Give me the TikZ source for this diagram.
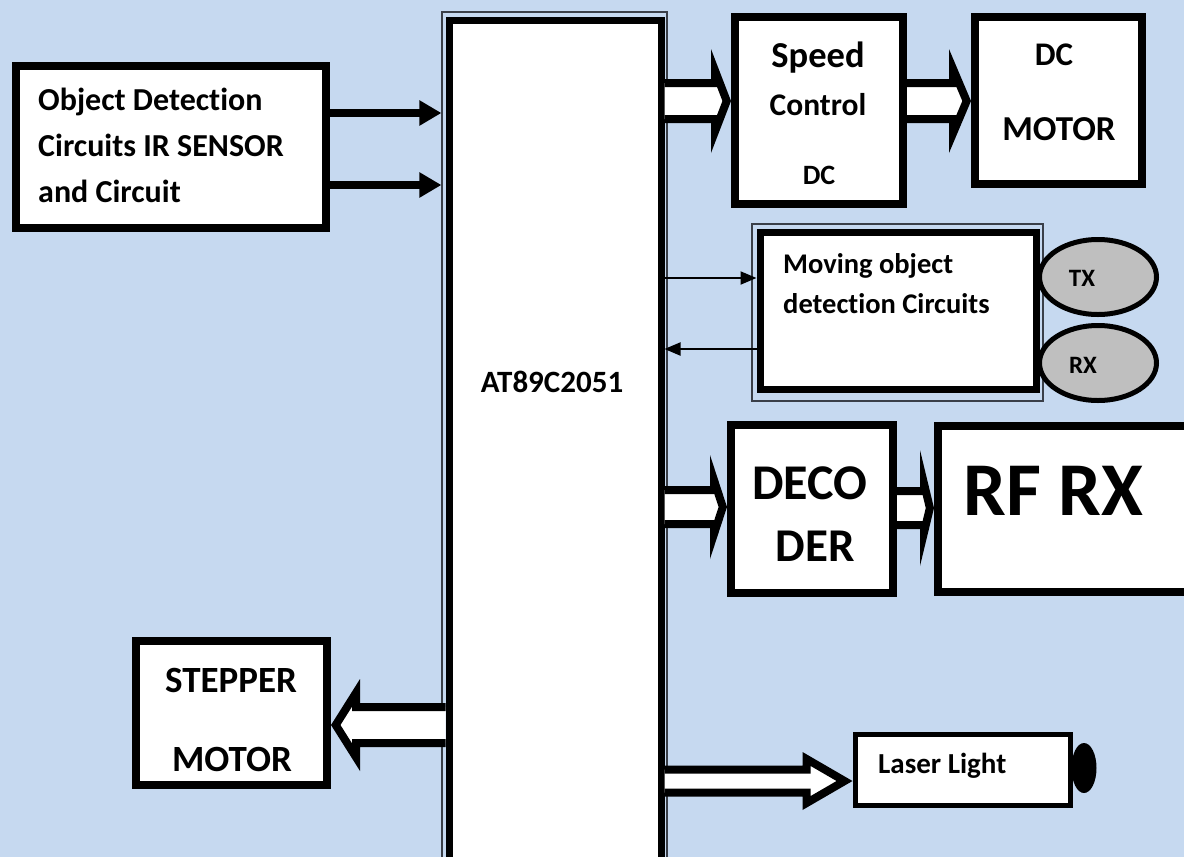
\documentclass[tikz,border=0pt]{standalone}
\usepackage{fontspec}
\setmainfont{Carlito}[Ligatures={NoCommon}]
\usetikzlibrary{arrows.meta,shapes.geometric}
\definecolor{bgblue}{HTML}{C6D9F0}
\definecolor{ellgray}{HTML}{BFBFBF}
\definecolor{thinline}{HTML}{3A3F48}
% block arrow: #1 from anchor, #2 to anchor, #3 y, #4 shaft outer half, #5 head outer half, #6 head outer length
\newcommand\blockarr[6]{%
  \path (#1); \pgfgetlastxy{\BAtmpx}{\BAtmpy}\pgfmathsetmacro\BAxs{\BAtmpx}%
  \path (#2); \pgfgetlastxy{\BAtmpx}{\BAtmpy}\pgfmathsetmacro\BAxt{\BAtmpx}%
  \pgfmathsetmacro\BAd{\BAxt>\BAxs ? 1 : -1}%
  \pgfmathsetmacro\BAxb{\BAxt-\BAd*(#6)}%
  \pgfmathsetmacro\BAnorm{sqrt((#6)^2+(#5)^2)}%
  \pgfmathsetmacro\BAxti{\BAxt-\BAd*4*\BAnorm/(#5)}%
  \pgfmathsetmacro\BAxv{\BAxb+\BAd*4}%
  \pgfmathsetmacro\BAhin{abs(\BAxti-\BAxv)*(#5)/(#6)}%
  \pgfmathsetmacro\BAsi{(#4)-4}%
  \filldraw[barrow] (\BAxs,#3-\BAsi) -- (\BAxv,#3-\BAsi) -- (\BAxv,#3-\BAhin) -- (\BAxti,#3)
     -- (\BAxv,#3+\BAhin) -- (\BAxv,#3+\BAsi) -- (\BAxs,#3+\BAsi);%
}
\begin{document}
\begin{tikzpicture}[x=1pt,y=-1pt,
  box/.style={draw=black, fill=white, line width=#1, rectangle, inner sep=0pt, outer sep=auto, line join=miter},
  box/.default=8pt,
  lbl/.style={font=\bfseries\fontsize{#1}{#1}\selectfont, inner sep=0pt, anchor=base},
  lblw/.style={lbl=#1, anchor=base west},
  thinbox/.style={draw=thinline, line width=1.2pt, rectangle, inner sep=0pt, outer sep=auto},
  barrow/.style={draw=black, fill=white, line width=8pt, line join=miter, miter limit=60},
  thinarr/.style={draw=black, line width=2pt, -{Triangle[length=16pt,width=13pt]}},
  thickarr/.style={draw=black, line width=8pt, -{Triangle[length=22pt,width=24pt]}},
  ell/.style={ellipse, draw=black, line width=5pt, fill=ellgray, minimum width=117pt, minimum height=75pt, inner sep=0pt}
]
\fill[bgblue] (0,0) rectangle (1184,857);
\useasboundingbox (0,0) rectangle (1184,857);
\begin{scope}
\clip (0,0) rectangle (1184,857);

% microcontroller
\node[thinbox, minimum width=225pt, minimum height=870pt] (mcuo) at (554.5,447) {};
\node[box=7pt, minimum width=212pt, minimum height=860pt] (mcu) at (555,450) {};
\node[lbl=31] (mcut) at (552,392) {AT89C2051};

% object detection
\node[box, minimum width=310pt, minimum height=162pt] (od) at (171,147) {};
\node[lblw=32] (od1) at (38,110) {Object Detection};
\node[lblw=32] (od2) at (38,156) {Circuits IR SENSOR};
\node[lblw=32] (od3) at (38,202) {and Circuit};

% speed control
\node[box, minimum width=168pt, minimum height=187pt] (sc) at (819,110.5) {};
\node[lbl=36.5] (sc1) at (818,67) {Speed};
\node[lbl=31.5] (sc2) at (818,115) {Control};
\node[lbl=28] (sc3) at (819,184) {DC};

% dc motor
\node[box, minimum width=167pt, minimum height=167pt] (dm) at (1058.5,100.5) {};
\node[lbl=33] (dm1) at (1054,65) {DC};
\node[lbl=35] (dm2) at (1059,140) {MOTOR};

% moving object detection
\node[thinbox, minimum width=291pt, minimum height=177pt] (movo) at (897.5,312.5) {};
\node[box=7pt, minimum width=276pt, minimum height=157pt] (mov) at (898,310.5) {};
\node[lblw=28.5] (mov1) at (783,273) {Moving object};
\node[lblw=28.5] (mov2) at (783,313) {detection Circuits};
\node[ell] (tx) at (1098,277) {};
\node[lbl=25] (txt) at (1082,286) {TX};
\node[ell] (rx) at (1098,363) {};
\node[lbl=25] (rxt) at (1083,373) {RX};

% decoder and RF RX
\node[box, minimum width=162pt, minimum height=168pt] (dec) at (812,509) {};
\node[lbl=50] (dec1) at (810,499) {DECO};
\node[lbl=47] (dec2) at (815,561) {DER};
\node[box, minimum width=262pt, minimum height=166pt] (rf) at (1069,509) {};
\node[lbl=76] (rft) at (1053.5,515) {RF RX};

% stepper
\node[box, minimum width=191pt, minimum height=144pt] (stp) at (231.5,713) {};
\node[lbl=37] (stp1) at (231,692) {STEPPER};
\node[lbl=37] (stp2) at (232,771) {MOTOR};

% laser
\node[box=5pt, minimum width=215pt, minimum height=71pt] (las) at (962.5,769.5) {};
\node[lblw=29] (last) at (878,773) {Laser Light};
\node[ellipse, fill=black, minimum width=25pt, minimum height=50pt, inner sep=0pt] (knob) at (1084,768) {};

% helper rows
\coordinate (y113) at (0,113);
\coordinate (y185) at (0,185);
\coordinate (y278) at (0,278);
\coordinate (y349) at (0,349);

% connectors
\draw[thickarr] (od.east |- y113) -- (mcuo.west |- y113);
\draw[thickarr] (od.east |- y185) -- (mcuo.west |- y185);
\draw[thinarr] (mcu.east |- y278) -- (mov.west |- y278);
\draw[thinarr] (mov.west |- y349) -- (mcu.east |- y349);

\blockarr{mcu.east}{sc.west}{101}{22}{52}{20}
\blockarr{sc.east}{dm.west}{101}{22}{52}{22}
\blockarr{mcu.east}{dec.west}{507}{21}{52}{17}
\blockarr{dec.east}{rf.west}{508}{21}{58}{14}
\blockarr{mcu.west}{stp.east}{725}{22}{46}{29}
\blockarr{mcu.east}{las.west}{781}{15.5}{29}{50}
\end{scope}
\end{tikzpicture}
\end{document}
